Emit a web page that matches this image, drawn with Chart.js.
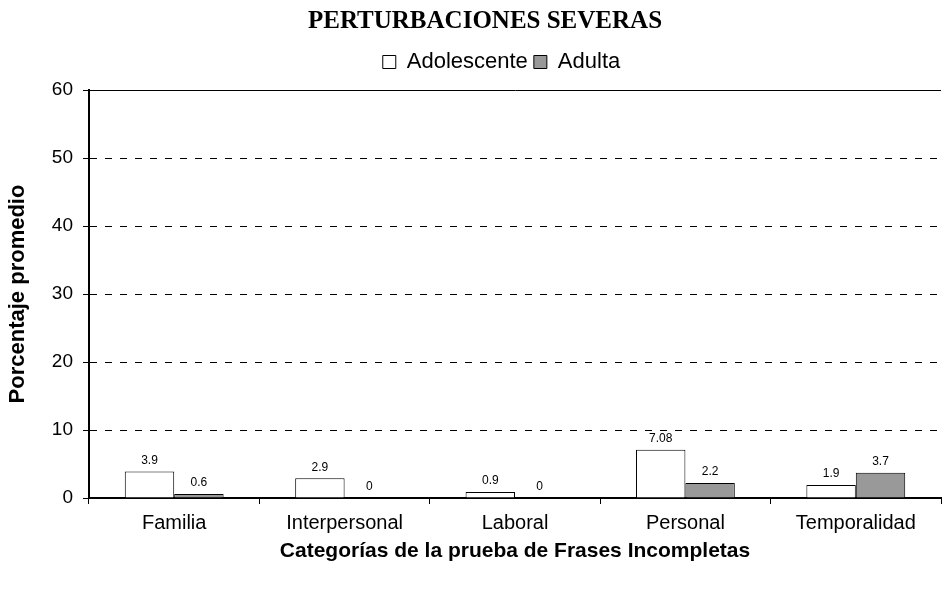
<!DOCTYPE html>
<html lang="es">
<head>
<meta charset="UTF-8">
<title>Perturbaciones severas</title>
<script src="https://cdn.jsdelivr.net/npm/chart.js@4.4.1/dist/chart.umd.min.js"></script>
<style>
    html, body { margin: 0; padding: 0; background: #ffffff; }
    #wrap { width: 947px; height: 597px; position: relative; }
</style>
</head>
<body>
<div id="wrap"><canvas id="grafico" width="947" height="597"></canvas></div>
<script>
// --- Datos ---
const categorias = ['Familia', 'Interpersonal', 'Laboral', 'Personal', 'Temporalidad'];
const adolescente = [3.9, 2.9, 0.9, 7.08, 1.9];
const adulta = [0.6, 0, 0, 2.2, 3.7];
const etiquetasAdolescente = ['3.9', '2.9', '0.9', '7.08', '1.9'];
const etiquetasAdulta = ['0.6', '0', '0', '2.2', '3.7'];
const ticksY = [0, 10, 20, 30, 40, 50, 60];

const fuente = "Arial, 'Liberation Sans', sans-serif";

// Etiquetas de valor encima de cada barra
const etiquetasBarras = {
    id: 'etiquetasBarras',
    afterDatasetsDraw(chart) {
        const ctx = chart.ctx;
        const textos = [etiquetasAdolescente, etiquetasAdulta];
        ctx.save();
        ctx.font = '12px ' + fuente;
        ctx.fillStyle = '#000';
        ctx.textAlign = 'center';
        ctx.textBaseline = 'middle';
        chart.data.datasets.forEach((ds, i) => {
            chart.getDatasetMeta(i).data.forEach((bar, j) => {
                ctx.fillText(textos[i][j], bar.x, bar.y - 11);
            });
        });
        ctx.restore();
    }
};

// Altura fija de la leyenda y centrado como en el original
const ajusteCabecera = {
    id: 'ajusteCabecera',
    beforeInit(chart) {
        const leyenda = chart.legend;
        if (!leyenda) return;
        const fitOriginal = leyenda.fit;
        leyenda.fit = function () {
            fitOriginal.call(this);
            this.height = 45;
        };
    },
    afterLayout(chart) {
        if (chart.titleBlock) {
            chart.titleBlock.left = 29;
            chart.titleBlock.right = 941;
        }
        if (chart.legend) {
            chart.legend.left = 62;
            chart.legend.right = 941;
        }
    }
};

new Chart(document.getElementById('grafico').getContext('2d'), {
    type: 'bar',
    data: {
        labels: categorias,
        datasets: [
            {
                label: 'Adolescente',
                data: adolescente,
                backgroundColor: '#ffffff',
                borderColor: '#000000',
                borderWidth: 1
            },
            {
                label: 'Adulta',
                data: adulta,
                backgroundColor: '#999999',
                borderColor: '#000000',
                borderWidth: 1
            }
        ]
    },
    options: {
        responsive: false,
        animation: false,
        devicePixelRatio: 1,
        layout: { padding: { left: 0, right: 6, top: 2, bottom: 0 } },
        datasets: {
            bar: { categoryPercentage: 0.58, barPercentage: 1 }
        },
        plugins: {
            title: {
                display: true,
                text: 'PERTURBACIONES SEVERAS',
                color: '#000',
                font: { family: "'Liberation Serif', 'Times New Roman', serif", size: 25, weight: 'bold' },
                padding: { top: 5, bottom: 8 }
            },
            legend: {
                display: true,
                position: 'top',
                labels: {
                    color: '#000',
                    font: { family: fuente, size: 22 },
                    boxWidth: 13,
                    boxHeight: 13,
                    padding: 6
                }
            },
            tooltip: { enabled: false }
        },
        scales: {
            x: {
                afterFit(scale) { scale.height = 99; },
                grid: {
                    display: true,
                    drawOnChartArea: false,
                    drawTicks: true,
                    tickLength: 6,
                    offset: true,
                    color: '#000'
                },
                border: { display: true, color: '#000', width: 2 },
                ticks: {
                    color: '#000',
                    font: { family: fuente, size: 20 },
                    padding: 7
                },
                title: {
                    display: true,
                    text: 'Categorías de la prueba de Frases Incompletas',
                    color: '#000',
                    font: { family: fuente, size: 21, weight: 'bold' },
                    padding: { top: 0, bottom: 33 }
                }
            },
            y: {
                min: 0,
                max: 60,
                afterFit(scale) { scale.width = 89; },
                afterBuildTicks(scale) {
                    scale.ticks = ticksY.map(v => ({ value: v }));
                },
                grid: {
                    color: '#000',
                    lineWidth: 1,
                    drawTicks: true,
                    tickLength: 6
                },
                border: {
                    display: true,
                    color: '#000',
                    width: 2,
                    dash: ctx => (ctx.tick && ctx.tick.value === 60) ? [] : [7, 8]
                },
                ticks: {
                    color: '#000',
                    font: { family: fuente, size: 19 },
                    padding: 10
                },
                title: {
                    display: true,
                    text: 'Porcentaje promedio',
                    color: '#000',
                    font: { family: fuente, size: 22, weight: 'bold' },
                    padding: { top: 5, bottom: 0 }
                }
            }
        }
    },
    plugins: [etiquetasBarras, ajusteCabecera]
});
</script>
</body>
</html>
